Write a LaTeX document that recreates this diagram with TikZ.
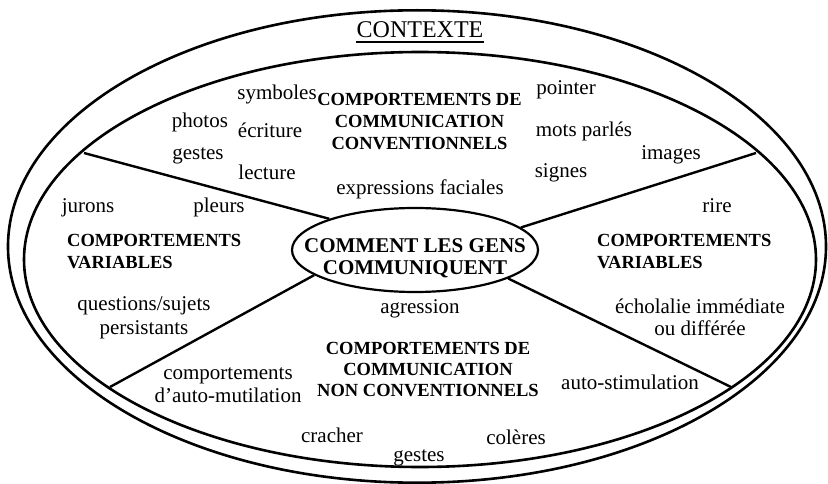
\documentclass[tikz,border=0pt]{standalone}
\usepackage{fontspec}
\setmainfont{Liberation Serif}
\usetikzlibrary{shapes.geometric}
\begin{document}
\begin{tikzpicture}[x=1pt,y=-1pt,
  lbl/.style={font=\fontsize{21}{25}\selectfont, inner sep=0, anchor=base},
  cat/.style={font=\fontsize{18.5}{22}\selectfont\bfseries, inner sep=0, anchor=base},
  catl/.style={cat, anchor=base west},
  hubtxt/.style={font=\fontsize{21}{25}\selectfont\bfseries, inner sep=0, anchor=base},
  ring/.style={line width=2.6pt},
  spoke/.style={line width=2.4pt}]
\useasboundingbox (0,0) rectangle (828,484);
% ellipses
\draw[ring] (417,246.5) ellipse (409 and 236.2);
\draw[ring] (420,259.5) ellipse (396 and 207.5);
\node[draw, ellipse, line width=2.2pt, minimum width=246pt, minimum height=84pt, inner sep=0] (hub) at (415,250) {};
% spokes
\coordinate (ul) at (84,153);
\coordinate (ur) at (756,153);
\coordinate (ll) at (110,387);
\coordinate (lr) at (731,387);
\draw[spoke] (ul) -- (hub.160);
\draw[spoke] (ur) -- (hub.12);
\draw[spoke] (ll) -- (hub.194);
\draw[spoke] (lr) -- (hub.343);
% title
\node[font=\fontsize{24}{28}\selectfont, inner sep=0, anchor=base] (ctx) at (420,38) {CONTEXTE};
\draw[line width=1.3pt] ([yshift=-4pt]ctx.base west) -- ([yshift=-4pt]ctx.base east);
% hub text
\node[hubtxt] (h1) at (415,252) {COMMENT LES GENS};
\node[hubtxt] (h2) at (415,274) {COMMUNIQUENT};
% category labels
\node[cat] (t1) at (419.5,106) {COMPORTEMENTS DE};
\node[cat] (t2) at (419.5,128) {COMMUNICATION};
\node[cat] (t3) at (419.5,150) {CONVENTIONNELS};
\node[catl] (l1) at (67,247) {COMPORTEMENTS};
\node[catl] (l2) at (67,268) {VARIABLES};
\node[catl] (r1) at (597,247) {COMPORTEMENTS};
\node[catl] (r2) at (597,268) {VARIABLES};
\node[cat] (b1) at (428,354) {COMPORTEMENTS DE};
\node[cat] (b2) at (428,375) {COMMUNICATION};
\node[cat] (b3) at (428,396) {NON CONVENTIONNELS};
% items
\node[lbl] (symb) at (277,100) {symboles};
\node[lbl] (photos) at (200,128) {photos};
\node[lbl] (ecrit) at (270,138) {écriture};
\node[lbl] (gest1) at (198,160) {gestes};
\node[lbl] (lect) at (267,180) {lecture};
\node[lbl] (expr) at (420,195) {expressions faciales};
\node[lbl] (point) at (566,95) {pointer};
\node[lbl] (mots) at (584,137) {mots parlés};
\node[lbl] (img) at (671,160) {images};
\node[lbl] (sign) at (561,178) {signes};
\node[lbl] (rire) at (717,213) {rire};
\node[lbl] (jur) at (88,213) {jurons};
\node[lbl] (pleu) at (219,213) {pleurs};
\node[lbl] (quest) at (144,310) {questions/sujets};
\node[lbl] (pers) at (144,334) {persistants};
\node[lbl] (compt) at (228,379) {comportements};
\node[lbl] (autom) at (228,402) {d’auto-mutilation};
\node[lbl] (agr) at (420,313) {agression};
\node[lbl] (crach) at (332,442) {cracher};
\node[lbl] (gest2) at (419,461) {gestes};
\node[lbl] (coler) at (516,444) {colères};
\node[lbl] (autost) at (630,389) {auto-stimulation};
\node[lbl] (echo) at (700,313) {écholalie immédiate};
\node[lbl] (diff) at (700,335) {ou différée};
\end{tikzpicture}
\end{document}
